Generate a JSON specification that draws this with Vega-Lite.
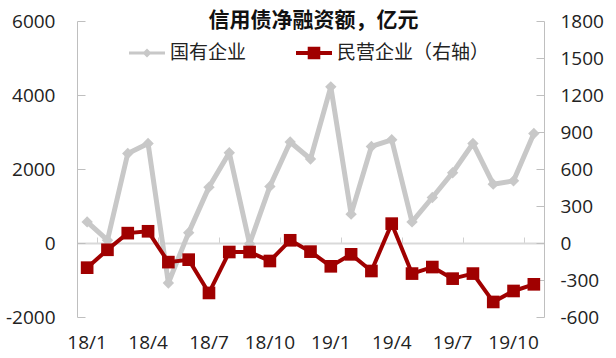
{
  "$schema": "https://vega.github.io/schema/vega-lite/v6.json",
  "width": 467,
  "height": 296,
  "autosize": {"type": "none"},
  "padding": {"left": 77, "top": 21, "right": 72, "bottom": 41},
  "background": "white",
  "config": {"view": {"stroke": null}, "font": "Open Sans"},
  "title": {"text": "信用债净融资额，亿元", "font": "Noto Sans CJK SC", "fontSize": 21, "fontWeight": "bold", "color": "#111111", "frame": "group", "anchor": "middle", "baseline": "middle", "offset": 0, "dx": 3, "dy": 30},
  "data": {"values": [
    {"m": "18/1", "soe": 570, "poe": -200},
    {"m": "18/2", "soe": 75, "poe": -55},
    {"m": "18/3", "soe": 2420, "poe": 80},
    {"m": "18/4", "soe": 2690, "poe": 95},
    {"m": "18/5", "soe": -1080, "poe": -155},
    {"m": "18/6", "soe": 280, "poe": -135},
    {"m": "18/7", "soe": 1510, "poe": -405},
    {"m": "18/8", "soe": 2440, "poe": -73},
    {"m": "18/9", "soe": -20, "poe": -73},
    {"m": "18/10", "soe": 1530, "poe": -146},
    {"m": "18/11", "soe": 2730, "poe": 22},
    {"m": "18/12", "soe": 2270, "poe": -70},
    {"m": "19/1", "soe": 4220, "poe": -189},
    {"m": "19/2", "soe": 780, "poe": -92},
    {"m": "19/3", "soe": 2610, "poe": -227},
    {"m": "19/4", "soe": 2790, "poe": 157},
    {"m": "19/5", "soe": 570, "poe": -248},
    {"m": "19/6", "soe": 1230, "poe": -195},
    {"m": "19/7", "soe": 1900, "poe": -289},
    {"m": "19/8", "soe": 2690, "poe": -248},
    {"m": "19/9", "soe": 1590, "poe": -478},
    {"m": "19/10", "soe": 1680, "poe": -389},
    {"m": "19/11", "soe": 2960, "poe": -335}
  ]},
  "layer": [
    {
      "encoding": {
        "x": {"field": "m", "type": "ordinal", "sort": null,
              "scale": {"type": "band", "paddingInner": 0, "paddingOuter": 0},
              "axis": {"orient": "bottom", "values": ["18/1", "18/4", "18/7", "18/10", "19/1", "19/4", "19/7", "19/10"], "domain": false, "ticks": false, "grid": false, "labelAngle": 0, "labelPadding": 16, "labelFontSize": 19, "labelColor": "#222222", "labelFont": "Open Sans", "labelOverlap": false, "title": null}},
        "y": {"field": "soe", "type": "quantitative",
              "scale": {"domain": [-2000, 6000], "nice": false, "zero": false},
              "axis": {"orient": "left", "values": [-2000, 0, 2000, 4000, 6000], "labelExpr": "'' + datum.value", "grid": false, "domainColor": "#bfbfbf", "domainWidth": 1, "tickColor": "#bfbfbf", "tickSize": -8, "labelPadding": 30, "labelFontSize": 19, "labelColor": "#222222", "labelFont": "Open Sans", "title": null}}
      },
      "layer": [
        {"mark": {"type": "line", "color": "#c8c8c8", "strokeWidth": 5, "strokeJoin": "round"}},
        {"mark": {"type": "point", "shape": "diamond", "filled": true, "size": 130, "opacity": 1},
         "encoding": {"color": {"datum": "国有企业", "type": "nominal",
            "scale": {"domain": ["国有企业", "民营企业（右轴）"], "range": ["#c8c8c8", "#a00000"]},
            "legend": {"title": null, "orient": "none", "legendX": 52, "legendY": 14, "direction": "horizontal", "symbolSize": 1296, "symbolStrokeWidth": 0, "symbolOpacity": 1, "labelFont": "Noto Sans CJK SC", "labelFontSize": 19, "labelColor": "#222222", "labelOffset": 5, "columnPadding": 49, "padding": 0,
              "encode": {"symbols": {"update": {"shape": [{"test": "datum.value === '国有企业'", "value": "M-1,-0.08H1V0.08H-1Z M0,-0.25L0.25,0L0,0.25L-0.25,0Z"}, {"value": "M-1,-0.11H1V0.11H-1Z M-0.35,-0.35H0.35V0.35H-0.35Z"}]}}}}}}}
      ]
    },
    {
      "encoding": {
        "x": {"field": "m", "type": "ordinal", "sort": null,
              "scale": {"type": "band", "paddingInner": 0, "paddingOuter": 0},
              "axis": {"orient": "top", "offset": -222, "labels": false, "domain": true, "domainColor": "#d9d9d9", "domainWidth": 2, "ticks": true, "tickColor": "#d0d0d0", "tickWidth": 1, "tickSize": 6, "tickBand": "extent", "values": ["18/1", "18/4", "18/7", "18/10", "19/1", "19/4", "19/7", "19/10"], "grid": false, "title": null}},
        "y": {"field": "poe", "type": "quantitative",
              "scale": {"domain": [-600, 1800], "nice": false, "zero": false},
              "axis": {"orient": "right", "values": [-600, -300, 0, 300, 600, 900, 1200, 1500, 1800], "labelExpr": "'' + datum.value", "grid": false, "domainColor": "#bfbfbf", "domainWidth": 1, "tickColor": "#bfbfbf", "tickSize": -8, "labelPadding": 24, "labelFontSize": 19, "labelColor": "#222222", "labelFont": "Open Sans", "title": null}}
      },
      "layer": [
        {"mark": {"type": "line", "color": "#a00000", "strokeWidth": 4, "strokeJoin": "round"}},
        {"mark": {"type": "point", "shape": "square", "filled": true, "size": 160, "opacity": 1},
         "encoding": {"color": {"datum": "民营企业（右轴）", "type": "nominal"}}}
      ]
    }
  ],
  "resolve": {"scale": {"y": "independent"}, "axis": {"x": "independent"}}
}
